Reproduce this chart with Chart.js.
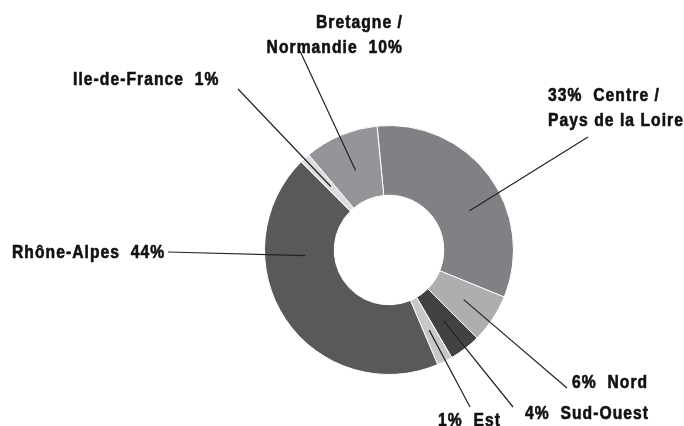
<!DOCTYPE html>
<html>
<head>
<meta charset="utf-8">
<script src="https://cdn.jsdelivr.net/npm/chart.js@4.4.1/dist/chart.umd.min.js"></script>
<style>
  html, body { margin: 0; padding: 0; background: #ffffff; }
  #wrap { width: 684px; height: 426px; }
</style>
</head>
<body>
<div id="wrap"><canvas id="c" width="684" height="426"></canvas></div>
<script>
// ---- data (clockwise from the top) ----
const categories = ["Centre / Pays de la Loire", "Nord", "Sud-Ouest", "Est", "Rhône-Alpes", "Ile-de-France", "Bretagne / Normandie"];
const shares = [32.6, 6.3, 4.1, 2.0, 43.8, 1.3, 9.6];
const shareLabels = ["33%", "6%", "4%", "1%", "44%", "1%", "10%"];
const labelTexts = [
  ["33%  Centre /", "Pays de la Loire"],
  ["6%  Nord"],
  ["4%  Sud-Ouest"],
  ["1%  Est"],
  ["Rhône-Alpes  44%"],
  ["Ile-de-France  1%"],
  ["Bretagne /", "Normandie  10%"]
];

// ---- styling / layout ----
const sliceColors = ["#808184", "#adaeb0", "#424244", "#c7c8ca", "#58595b", "#dcdddf", "#939598"];
// text anchor (x, first baseline), alignment, leader end point, anchor position along the arc
const labelLayout = [
  { x: 548, y: 101, align: "left",  lx: 588, ly: 137, f: 0.59, rf: 0.5 },
  { x: 572, y: 388, align: "left",  lx: 567, ly: 388, f: 0.5,  rf: 0.5 },
  { x: 525, y: 419, align: "left",  lx: 513, ly: 407, f: 0.5,  rf: 0.5 },
  { x: 438, y: 426, align: "left",  lx: 470, ly: 407, f: 0.5,  rf: 0.5 },
  { x: 12,  y: 258, align: "left",  lx: 168, ly: 252, f: 0.69, rf: 0.42 },
  { x: 73,  y: 85,  align: "left",  lx: 238, ly: 89,  f: 0.5,  rf: 0.45 },
  { x: 403, y: 28,  align: "right", lx: 300, ly: 51,  f: 0.5,  rf: 0.45 }
];
const lineHeight = 24.5;
const labelFont = "bold 18px 'Liberation Sans', Arial, sans-serif";
const squeeze = 0.87;

const calloutPlugin = {
  id: "callouts",
  afterDatasetsDraw(chart) {
    const ctx = chart.ctx;
    const meta = chart.getDatasetMeta(0);
    ctx.save();
    labelLayout.forEach((lay, i) => {
      const arc = meta.data[i];
      const p = arc.getProps(["x", "y", "startAngle", "endAngle", "innerRadius", "outerRadius"], true);
      const a = p.startAngle + (p.endAngle - p.startAngle) * lay.f;
      const r = p.innerRadius + (p.outerRadius - p.innerRadius) * lay.rf;
      const ax = p.x + Math.cos(a) * r;
      const ay = p.y + Math.sin(a) * r;
      ctx.beginPath();
      ctx.strokeStyle = "#222222";
      ctx.lineWidth = 1.2;
      ctx.moveTo(ax, ay);
      ctx.lineTo(lay.lx, lay.ly);
      ctx.stroke();
    });
    ctx.font = labelFont;
    if ('letterSpacing' in ctx) ctx.letterSpacing = "1.2px";
    ctx.fillStyle = "#111111";
    ctx.strokeStyle = "#111111";
    ctx.lineWidth = 0.6;
    ctx.lineJoin = "round";
    ctx.textBaseline = "alphabetic";
    ctx.scale(squeeze, 1);
    labelLayout.forEach((lay, i) => {
      ctx.textAlign = lay.align;
      labelTexts[i].forEach((t, k) => {
        ctx.fillText(t, lay.x / squeeze, lay.y + k * lineHeight);
        ctx.strokeText(t, lay.x / squeeze, lay.y + k * lineHeight);
      });
    });
    ctx.restore();
  }
};

new Chart(document.getElementById("c"), {
  type: "doughnut",
  data: {
    labels: categories,
    datasets: [{
      data: shares,
      backgroundColor: sliceColors,
      borderColor: "#ffffff",
      borderWidth: 1,
      hoverOffset: 0,
      offset: 0
    }]
  },
  options: {
    responsive: false,
    animation: false,
    rotation: -5.5,
    cutout: "44%",
    layout: { padding: { left: 264, right: 170, top: 125, bottom: 51 } },
    plugins: {
      legend: { display: false },
      tooltip: { enabled: false }
    }
  },
  plugins: [calloutPlugin]
});
</script>
</body>
</html>
